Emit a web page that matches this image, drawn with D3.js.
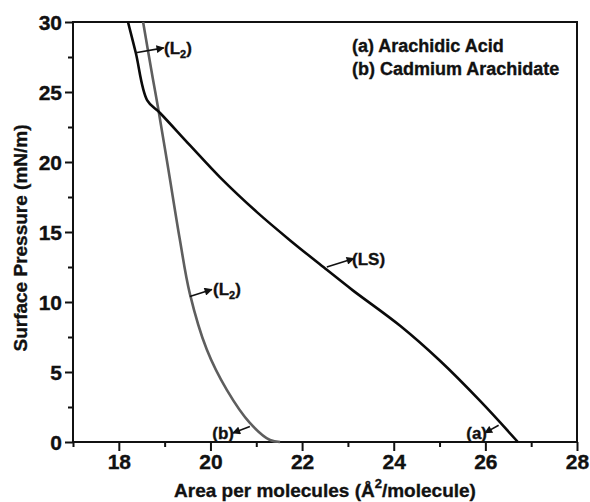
<!DOCTYPE html>
<html><head><meta charset="utf-8">
<script src="https://cdn.jsdelivr.net/npm/d3@7"></script>
<style>
body{margin:0;background:#fff;}
text{font-family:Arial,"Liberation Sans",sans-serif;font-weight:bold;fill:#111;stroke:#111;stroke-width:0.35px;}
</style></head>
<body><svg id="c" width="590" height="502"></svg>
<script>
// Curve (a) Arachidic Acid
const areaA = [18.20, 18.37, 18.62, 18.90, 19.55, 20.21, 21.02, 21.74, 22.54, 23.10, 24.14, 25.01, 25.88, 26.71];
const pressA = [30.0, 27.8, 24.4, 23.5, 21.2, 18.9, 16.4, 14.4, 12.3, 10.85, 8.3, 5.8, 2.95, 0.0];
// Curve (b) Cadmium Arachidate
const areaB = [18.53, 18.74, 18.85, 19.08, 19.33, 19.55, 19.92, 20.36, 20.86, 21.30, 21.52];
const pressB = [30.0, 26.0, 24.0, 19.5, 14.5, 10.6, 6.6, 3.7, 1.36, 0.14, 0.0];
const xTicks = [18, 20, 22, 24, 26, 28];
const yTicks = [0, 5, 10, 15, 20, 25, 30];
const legendLines = ["(a) Arachidic Acid", "(b) Cadmium Arachidate"];

const L = 73, R = 577, T = 22, B = 442;
const svg = d3.select("#c");
const x = d3.scaleLinear().domain([17, 28]).range([L, R]);
const y = d3.scaleLinear().domain([0, 30]).range([B, T]);

// frame
svg.append("rect").attr("x", L).attr("y", T).attr("width", R - L).attr("height", B - T)
  .attr("fill", "none").attr("stroke", "#111").attr("stroke-width", 2);

// minor ticks
const xMinor = d3.range(17, 28, 2);
const yMinor = d3.range(2.5, 30, 5);
const ax = svg.append("g").attr("transform", `translate(0,${B})`)
  .call(d3.axisBottom(x).tickValues(xMinor).tickSize(5).tickFormat(""));
const ay = svg.append("g").attr("transform", `translate(${L},0)`)
  .call(d3.axisLeft(y).tickValues(yMinor).tickSize(5).tickFormat(""));
const bx = svg.append("g").attr("transform", `translate(0,${B})`)
  .call(d3.axisBottom(x).tickValues(xTicks).tickSize(9).tickPadding(3).tickFormat(d3.format("d")));
const by = svg.append("g").attr("transform", `translate(${L},0)`)
  .call(d3.axisLeft(y).tickValues(yTicks).tickSize(8).tickPadding(3).tickFormat(d3.format("d")));
[ax, ay, bx, by].forEach(g => {
  g.select(".domain").remove();
  g.selectAll("line").attr("stroke", "#111").attr("stroke-width", 2);
  g.selectAll("text").attr("font-size", 21).attr("font-family", "Arial, Liberation Sans").attr("font-weight", "bold").attr("fill", "#111");
});
by.selectAll("text").attr("dy", "0.36em");

// curves
const line = d3.line().x(d => x(d[0])).y(d => y(d[1])).curve(d3.curveCatmullRom.alpha(0.5));
svg.append("path").datum(d3.zip(areaB, pressB)).attr("d", line)
  .attr("fill", "none").attr("stroke", "#5e5e5e").attr("stroke-width", 2.6);
svg.append("path").datum(d3.zip(areaA, pressA)).attr("d", line)
  .attr("fill", "none").attr("stroke", "#0a0a0a").attr("stroke-width", 2.6);

// arrows
const defs = svg.append("defs");
defs.append("marker").attr("id", "ah").attr("viewBox", "0 0 10 10").attr("refX", 9).attr("refY", 5)
  .attr("markerWidth", 10).attr("markerHeight", 8).attr("markerUnits", "userSpaceOnUse").attr("orient", "auto")
  .append("path").attr("d", "M0,0 L10,5 L0,10 Z").attr("fill", "#111");

const notes = [
  {ax: 18.37, ay: 27.8, bx: 18.98, by: 28.15, label: ["(L", "2", ")"], tx: 164, side: "r"},
  {ax: 19.55, ay: 10.4, bx: 20.03, by: 10.9, label: ["(L", "2", ")"], tx: 213, side: "r"},
  {ax: 22.54, ay: 12.5, bx: 23.13, by: 13.1, label: ["(LS)"], tx: 352, side: "r"},
  {ax: 20.86, ay: 1.1, bx: 20.49, by: 0.65, label: ["(b)"], tx: 234, side: "l"},
  {ax: 26.29, ay: 1.2, bx: 25.99, by: 0.65, label: ["(a)"], tx: 487, side: "l"}
];
notes.forEach(n => {
  svg.append("line").attr("x1", x(n.ax)).attr("y1", y(n.ay)).attr("x2", x(n.bx)).attr("y2", y(n.by))
    .attr("stroke", "#111").attr("stroke-width", 1.6).attr("marker-end", "url(#ah)");
  const t = svg.append("text").attr("x", n.tx).attr("y", y(n.by) + 6).attr("font-size", 17)
    .attr("text-anchor", n.side === "r" ? "start" : "end");
  if (n.label.length === 3) {
    t.append("tspan").text(n.label[0]);
    t.append("tspan").text(n.label[1]).attr("font-size", 11).attr("dy", 4);
    t.append("tspan").text(n.label[2]).attr("dy", -4);
  } else t.text(n.label[0]);
});

// legend
legendLines.forEach((s, i) => {
  svg.append("text").attr("x", 352).attr("y", 52 + i * 23).attr("font-size", 18).text(s);
});

// axis titles
const xt = svg.append("text").attr("x", 325).attr("y", 497).attr("text-anchor", "middle").attr("font-size", 19);
xt.append("tspan").text("Area per molecules (Å");
xt.append("tspan").text("2").attr("font-size", 13).attr("dy", -9);
xt.append("tspan").text("/molecule)").attr("dy", 9);
svg.append("text").attr("transform", "translate(27,238) rotate(-90)").attr("text-anchor", "middle")
  .attr("font-size", 19).text("Surface Pressure (mN/m)");
</script></body></html>
